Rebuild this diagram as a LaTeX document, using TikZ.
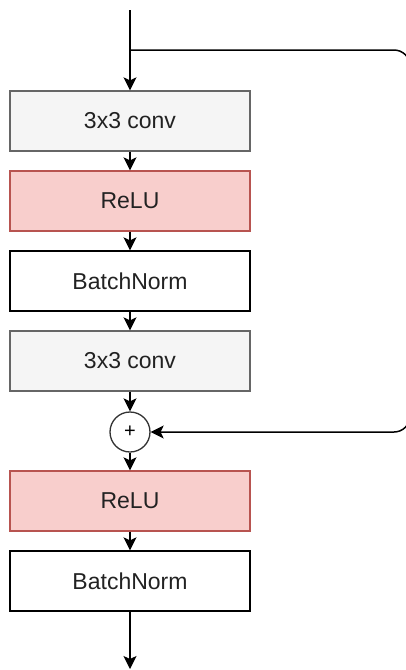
\documentclass[tikz,border=0pt]{standalone}
\usepackage{fontspec}
\setmainfont{Liberation Sans}
\usetikzlibrary{arrows.meta}
\definecolor{convfill}{HTML}{F5F5F5}
\definecolor{convdraw}{HTML}{666666}
\definecolor{relufill}{HTML}{F8CECC}
\definecolor{reludraw}{HTML}{B85450}
\definecolor{txt}{HTML}{222222}
\tikzset{
  x=1pt, y=-1pt,
  block/.style={draw, line width=1.3pt, minimum width=240pt, minimum height=60pt,
    inner sep=0pt, text=txt, font=\fontsize{23}{26}\selectfont},
  convbox/.style={block, fill=convfill, draw=convdraw},
  relubox/.style={block, fill=relufill, draw=reludraw},
  normbox/.style={block, fill=white, draw=black},
  sumnode/.style={circle, draw=black!80, line width=1.3pt, minimum size=40pt, inner sep=0pt,
    font=\fontsize{20}{22}\selectfont},
  flow/.style={line width=1.5pt, -{Stealth[length=13pt,width=13pt,inset=3pt]}},
}
\begin{document}
\begin{tikzpicture}
\useasboundingbox (0,0) rectangle (406,670);
\node[convbox] (c1) at (130,121) {3x3 conv};
\node[relubox] (r1) at (130,201) {ReLU};
\node[normbox] (b1) at (130,281) {BatchNorm};
\node[convbox] (c2) at (130,361) {3x3 conv};
\node[sumnode] (s) at (130,432) {+};
\node[relubox] (r2) at (130,501) {ReLU};
\node[normbox] (b2) at (130,581) {BatchNorm};
\coordinate (in) at (130,10);
\coordinate (split) at (130,50);
\coordinate (out) at (130,669);
\coordinate (ne) at (410,50);
\coordinate (se) at (410,432);
\draw[line width=1.5pt] (in) -- (split);
\draw[flow] (split) -- (c1);
\draw[flow] (c1) -- (r1);
\draw[flow] (r1) -- (b1);
\draw[flow] (b1) -- (c2);
\draw[flow] (c2) -- (s);
\draw[flow] (s) -- (r2);
\draw[flow] (r2) -- (b2);
\draw[flow] (b2) -- (out);
\draw[flow, rounded corners=16pt] (split) -- (ne) -- (se) -- (s);
\end{tikzpicture}
\end{document}
